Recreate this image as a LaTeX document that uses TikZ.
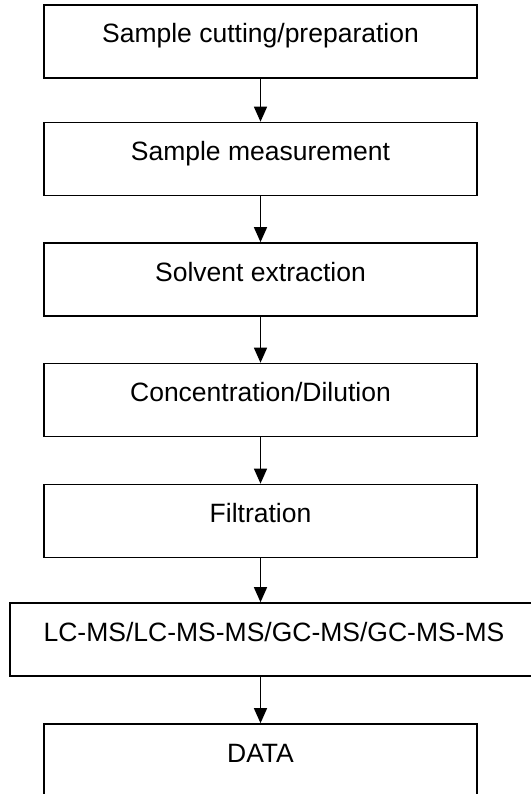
\documentclass[tikz,border=0pt]{standalone}
\usepackage{fontspec}
\setmainfont{Liberation Sans}
\usetikzlibrary{arrows.meta}
\begin{document}
\begin{tikzpicture}[x=1pt,y=-1pt,
  stepbox/.style={draw=black, line width=1.6pt, rectangle, minimum width=433pt,
    minimum height=73pt, inner sep=0pt, font=\fontsize{26.5}{30}\selectfont,
    text height=19pt, text depth=16pt},
  flow/.style={draw=black, line width=1.3pt, -{Triangle[length=15pt,width=13pt]}}]
  \useasboundingbox (0,0) rectangle (530,794);
  \fill[white] (0,0) rectangle (530,794);

  \node[stepbox] (s1) at (260.5,41.5) {Sample cutting/preparation};
  \node[stepbox] (s2) at (260.5,159) {Sample measurement};
  \node[stepbox] (s3) at (260.5,279.5) {Solvent extraction};
  \node[stepbox] (s4) at (260.5,400) {Concentration/Dilution};
  \node[stepbox] (s5) at (260.5,521) {Filtration};
  \node[stepbox, minimum width=528pt] (s6) at (274,639.5) {LC-MS/LC-MS-MS/GC-MS/GC-MS-MS};
  \node[stepbox] (s7) at (260.5,760.5) {DATA};

  \draw[flow] (s1.south) -- (s2.north);
  \draw[flow] (s2.south) -- (s3.north);
  \draw[flow] (s3.south) -- (s4.north);
  \draw[flow] (s4.south) -- (s5.north);
  \draw[flow] (s5.south) -- (s5.south |- s6.north);
  \draw[flow] (s5.south |- s6.south) -- (s7.north);
\end{tikzpicture}
\end{document}
